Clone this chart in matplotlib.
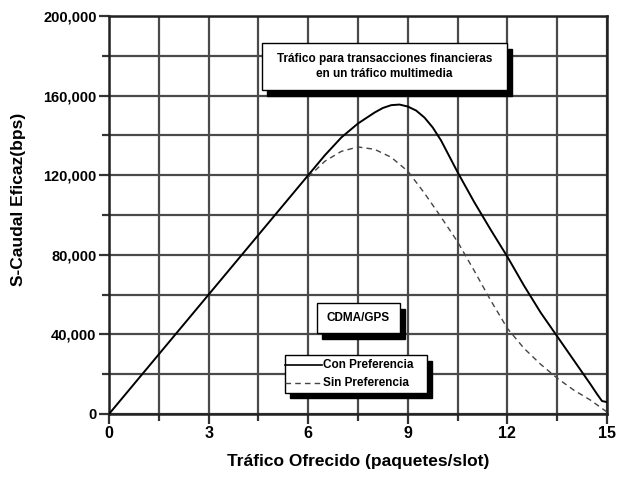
import numpy as np
import matplotlib as mpl
import matplotlib.pyplot as plt
import matplotlib.ticker as ticker
from matplotlib.patches import Rectangle

# data
x_con = [0, 3, 6, 6.5, 7, 7.5, 8, 8.25, 8.5, 8.75, 9, 9.25, 9.5, 9.75, 10,
         10.5, 11, 11.5, 12, 12.5, 13, 13.5, 14, 14.5, 14.7, 14.85, 15]
y_con = [0, 60000, 120000, 130000, 139000, 146000, 151500, 153800, 155200,
         155500, 154500, 152500, 149000, 144000, 137500, 121500, 106500,
         92500, 79000, 64500, 51000, 39000, 27000, 15000, 10000, 6500, 6000]

x_sin = [6, 6.5, 7, 7.5, 8, 8.5, 9, 9.5, 10, 10.5, 11, 11.5, 12, 12.5, 13,
         13.5, 14, 14.5, 15]
y_sin = [119000, 127000, 132000, 134200, 133000, 129000, 122000, 111000,
         99000, 86500, 72000, 57000, 43000, 33000, 25000, 18000, 12000,
         7000, 1000]

x_ticks = [0, 3, 6, 9, 12, 15]
y_ticks = [0, 40000, 80000, 120000, 160000, 200000]
y_ticklabels = ["0", "40,000", "80,000", "120,000", "160,000", "200,000"]

title_text = "Tráfico para transacciones financieras\nen un tráfico multimedia"
tag_text = "CDMA/GPS"
legend_labels = ["Con Preferencia", "Sin Preferencia"]

FONT = ["Liberation Sans Narrow", "Liberation Sans", "DejaVu Sans"]
mpl.rcParams.update({"font.family": FONT, "font.weight": "bold",
                     "axes.labelweight": "bold"})


def shadow_box(ax, x0, y0, x1, y1, dx=0.010, dy=0.014):
    """white box with a black drop shadow, axes-fraction coords"""
    ax.add_patch(Rectangle((x0 + dx, y0 - dy), x1 - x0, y1 - y0,
                           transform=ax.transAxes, facecolor="black",
                           edgecolor="black", zorder=5))
    ax.add_patch(Rectangle((x0, y0), x1 - x0, y1 - y0,
                           transform=ax.transAxes, facecolor="white",
                           edgecolor="black", linewidth=1.0, zorder=6))


fig = plt.figure(figsize=(6.17, 4.78), dpi=100)
ax = fig.add_axes([0.1767, 0.1339, 0.8071, 0.8326])

ax.plot(x_con, y_con, color="black", linewidth=1.4, zorder=4)
ax.plot(x_sin, y_sin, color="#444444", linewidth=1.0, linestyle=(0, (4, 3)),
        zorder=4)

ax.set_xlim(0, 15)
ax.set_ylim(0, 200000)
ax.set_xticks(x_ticks)
ax.set_yticks(y_ticks)
ax.set_yticklabels(y_ticklabels)
ax.xaxis.set_minor_locator(ticker.MultipleLocator(1.5))
ax.yaxis.set_minor_locator(ticker.MultipleLocator(20000))

ax.grid(True, which="both", color="#4a4a4a", linewidth=1.6)
ax.set_axisbelow(True)
for s in ax.spines.values():
    s.set_linewidth(1.8)
    s.set_color("#222222")
ax.tick_params(which="major", length=7, width=1.6, color="#333333",
               labelsize=10.5, pad=2)
ax.tick_params(which="major", axis="x", labelsize=11.5)
ax.tick_params(which="minor", length=5, width=1.6, color="#333333")

ax.set_xlabel("Tráfico Ofrecido (paquetes/slot)", fontsize=12.5, labelpad=9)
ax.set_ylabel("S-Caudal Eficaz(bps)", fontsize=12.5)
ax.yaxis.set_label_coords(-0.167, 0.54)

# title box
shadow_box(ax, 0.307, 0.814, 0.800, 0.932)
ax.text(0.553, 0.873, title_text, transform=ax.transAxes, ha="center",
        va="center", fontsize=8.5, linespacing=1.35, zorder=7)

# CDMA/GPS box
shadow_box(ax, 0.417, 0.203, 0.584, 0.279)
ax.text(0.500, 0.241, tag_text, transform=ax.transAxes, ha="center",
        va="center", fontsize=8.5, zorder=7)

# legend box
shadow_box(ax, 0.353, 0.053, 0.639, 0.148)
ax.plot([0.353, 0.428], [0.123, 0.123], transform=ax.transAxes,
        color="black", linewidth=1.2, zorder=7)
ax.plot([0.353, 0.428], [0.078, 0.078], transform=ax.transAxes,
        color="#444444", linewidth=1.0, linestyle=(0, (4, 3)), zorder=7)
ax.text(0.430, 0.123, legend_labels[0], transform=ax.transAxes, ha="left",
        va="center", fontsize=8.5, zorder=7)
ax.text(0.430, 0.078, legend_labels[1], transform=ax.transAxes, ha="left",
        va="center", fontsize=8.5, zorder=7)

fig.savefig("out.png", dpi=100)
